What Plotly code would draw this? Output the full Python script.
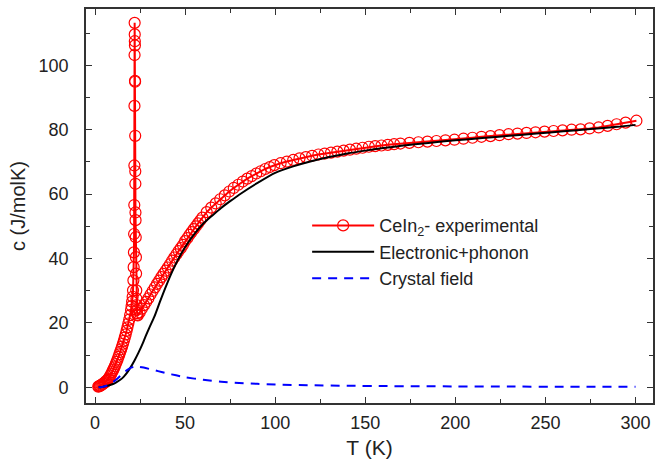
import plotly.graph_objects as go

# Experimental CeIn2 specific heat
exp_T = [1.8, 2.2, 2.6, 3.0, 3.5, 4.0, 4.5, 5.0, 5.5, 6.0, 6.5, 7.0, 7.5, 8.0, 8.5, 9.0, 9.5, 10.0,
         10.5, 11.0, 11.5, 12.0, 12.5, 13.0, 13.5, 14.0, 14.5, 15.0, 15.5, 16.0, 16.5, 17.0, 17.5,
         18.0, 18.5, 19.0, 19.5, 20.0, 20.3, 20.6,
         20.9, 21.1, 21.3, 21.45, 21.6, 21.7, 21.8, 21.85, 21.9, 21.95, 22.0, 22.05, 22.1, 22.15,
         22.2, 22.25, 22.3, 22.35, 22.4, 22.45, 22.5, 22.6, 22.7, 22.8, 22.9, 23.0, 23.1, 23.2,
         23.35, 23.5, 23.7,
         24.8, 26.0, 27.2, 28.4, 29.6, 30.8, 32.0, 33.2, 34.4, 35.6, 36.8, 38.0, 39.2, 40.4, 41.6,
         42.8, 44.0, 45.2, 46.4, 47.6, 48.8, 50.0, 51.2, 52.4, 53.6, 54.8, 56.0, 57.2, 58.4, 59.6,
         62.0, 64.5, 67.0, 69.5, 72.0, 74.5, 77.0, 79.5, 82.0, 84.5, 87.0, 89.5, 92.0, 94.5, 97.0, 99.5,
         103, 106.5, 110, 113.5, 117, 120.5, 124, 127.5, 131, 134.5, 138, 141.5, 145, 148.5, 152,
         155.5, 159, 162.5, 166, 169.5,
         174.5, 179.5, 184.5, 189.5, 194.5, 199.5, 204.5, 209.5, 214.5, 219.5, 224.5, 229.5, 234.5,
         239.5, 244.5, 249.5, 254.5, 259.5, 264.5, 269.5, 274.5, 279.5, 284.5, 289.5, 294.5, 300.5]
exp_c = [0.2, 0.3, 0.4, 0.5, 0.7, 0.9, 1.1, 1.3, 1.5, 1.8, 2.0, 2.3, 2.7, 3.1, 3.6, 4.1, 4.7, 5.3,
         5.9, 6.5, 7.2, 7.9, 8.6, 9.4, 10.2, 11.0, 11.8, 12.6, 13.5, 14.4, 15.4, 16.4, 17.5,
         18.6, 19.8, 21.0, 22.4, 24.0, 25.2, 26.6,
         28.1, 30.1, 33.2, 37.3, 41.9, 47.6, 56.6, 68.9, 87.4, 103.2, 113.2, 109.6, 107.5, 106.2,
         95.2, 94.9, 78.1, 67.1, 63.2, 54.3, 51.9, 46.6, 40.4, 35.3, 30.1, 27.5, 25.5, 24.0,
         23.0, 22.5, 22.3,
         23.2, 24.4, 25.5, 26.5, 27.6, 28.8, 29.9, 31.0, 32.1, 33.1, 34.2, 35.2, 36.2, 37.2, 38.2,
         39.3, 40.3, 41.3, 42.3, 43.2, 44.2, 45.4, 46.3, 47.3, 48.2, 49.1, 50.0, 50.9, 51.8, 52.7,
         54.4, 55.8, 57.1, 58.4, 59.6, 60.8, 61.9, 62.9, 63.9, 64.8, 65.6, 66.4, 67.1, 67.8, 68.4, 69.0,
         69.6, 70.1, 70.6, 71.1, 71.5, 71.9, 72.3, 72.6, 72.9, 73.2, 73.5, 73.8, 74.1, 74.4, 74.7,
         74.9, 75.1, 75.3, 75.5, 75.7,
         75.9, 76.1, 76.3, 76.5, 76.7, 76.9, 77.2, 77.5, 77.8, 78.0, 78.3, 78.6, 78.8,
         79.0, 79.2, 79.4, 79.6, 79.8, 80.0, 80.1, 80.4, 80.7, 81.2, 81.7, 82.2, 82.8]

# Electronic + phonon contribution
ep_T = [2, 4, 6, 8, 10, 12, 14, 16, 18, 20, 22, 24, 26, 28, 30, 33, 36, 40, 44, 48, 52, 56, 60,
        65, 70, 75, 80, 90, 100, 110, 120, 130, 140, 150, 160, 170, 185, 200, 215, 230, 245, 260,
        275, 290, 300]
ep_c = [0.0, 0.1, 0.3, 0.6, 1.0, 1.6, 2.3, 3.3, 4.7, 6.4, 8.4, 10.6, 13.0, 15.7, 18.3, 22.0, 26.5,
        32.2, 37.3, 41.6, 45.2, 48.2, 50.8, 53.3, 55.7, 57.8, 59.8, 63.4, 66.6, 68.6, 70.2, 71.5,
        72.6, 73.5, 74.3, 75.0, 75.9, 76.7, 77.4, 78.1, 78.8, 79.5, 80.2, 80.9, 81.5]

# Crystal field contribution
cf_T = [2, 4, 6, 8, 10, 12, 14, 16, 18, 20, 22, 24, 27, 30, 35, 40, 45, 50, 60, 70, 80, 90, 100,
        120, 140, 160, 180, 200, 230, 260, 300]
cf_c = [0.0, 0.1, 0.4, 0.9, 1.6, 2.5, 3.5, 4.5, 5.4, 6.1, 6.4, 6.4, 6.1, 5.7, 5.0, 4.3, 3.7, 3.1,
        2.3, 1.7, 1.3, 1.05, 0.85, 0.6, 0.45, 0.36, 0.3, 0.25, 0.2, 0.16, 0.12]

FONT = "Liberation Sans, Arial, sans-serif"
TXT = "#222222"

fig = go.Figure()
fig.add_trace(go.Scatter(
    x=exp_T, y=exp_c, mode="lines+markers", name="CeIn<sub>2</sub>- experimental",
    line=dict(color="#ff0000", width=2),
    marker=dict(symbol="circle-open", size=11, color="#ff0000", line=dict(width=1.2, color="#ff0000"))))
fig.add_trace(go.Scatter(
    x=ep_T, y=ep_c, mode="lines", name="Electronic+phonon",
    line=dict(color="#000000", width=2, shape="spline", smoothing=0.6)))
fig.add_trace(go.Scatter(
    x=cf_T, y=cf_c, mode="lines", name="Crystal field",
    line=dict(color="#0000ff", width=2, dash="9px,7px", shape="spline", smoothing=0.6)))

axis_common = dict(
    showgrid=False, zeroline=False, showline=True, linecolor="#333333", linewidth=1.6,
    mirror="allticks", ticks="inside", ticklen=6, tickwidth=1.4, tickcolor="#333333",
    tickfont=dict(family=FONT, size=18, color=TXT),
)

fig.update_xaxes(
    range=[-5, 309.7], tick0=0, dtick=50,
    minor=dict(dtick=25, ticks="inside", ticklen=4, tickwidth=1.2, tickcolor="#333333"),
    title=dict(text="T (K)", font=dict(family=FONT, size=21, color=TXT), standoff=8),
    ticklabelstandoff=3,
    **axis_common)
fig.update_yaxes(
    range=[-4.9, 117.5], tick0=0, dtick=20,
    minor=dict(dtick=10, ticks="inside", ticklen=4, tickwidth=1.2, tickcolor="#333333"),
    title=dict(text="c (J/molK)", font=dict(family=FONT, size=20, color=TXT), standoff=8),
    ticklabelstandoff=12,
    **axis_common)

fig.update_layout(
    width=665, height=466,
    margin=dict(l=86, r=12, t=7, b=63),
    plot_bgcolor="white", paper_bgcolor="white",
    font=dict(family=FONT, size=18, color=TXT),
    showlegend=True,
    legend=dict(x=0.39, y=0.497, xanchor="left", yanchor="top", bgcolor="rgba(0,0,0,0)",
                font=dict(family=FONT, size=18, color=TXT), itemwidth=62),
)

fig.write_html("out.html", config={"displayModeBar": False},
               post_script="document.body.style.margin='0';document.body.style.overflow='hidden';")
